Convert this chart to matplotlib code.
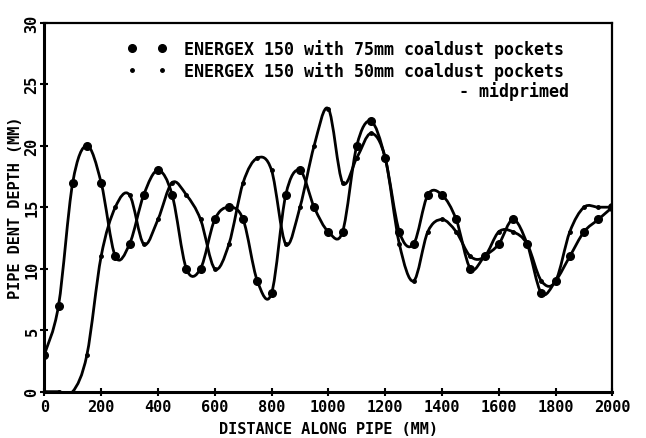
import numpy as np
import matplotlib
matplotlib.use("Agg")
import matplotlib.pyplot as plt
from matplotlib.path import Path
from matplotlib.patches import PathPatch
from matplotlib.lines import Line2D

# ==========================================
# DATA (every 50 mm)
# ==========================================

distance = list(range(0, 2001, 50))

depth_75mm = [3, 7, 17, 20, 17, 11, 12, 16, 18, 16,
              10, 10, 14, 15, 14, 9, 8, 16, 18, 15,
              13, 13, 20, 22, 19, 13, 12, 16, 16, 14,
              10, 11, 12, 14, 12, 8, 9, 11, 13, 14, 15]

depth_50mm = [0, 0, 0, 3, 11, 15, 16, 12, 14, 17,
              16, 14, 10, 12, 17, 19, 18, 12, 15, 20,
              23, 17, 19, 21, 19, 12, 9, 13, 14, 13,
              11, 11, 13, 13, 12, 9, 9, 13, 15, 15, 15]

label_75 = "ENERGEX 150 with 75mm coaldust pockets"
label_50 = "ENERGEX 150 with 50mm coaldust pockets"
label_mid = "- midprimed"

x_ticks = list(range(0, 2001, 200))
y_ticks = list(range(0, 31, 5))

FONT = "DejaVu Sans Mono"


def smooth_path(xs, ys):
    # Catmull-Rom segments drawn as cubic Bezier curves
    pts = np.column_stack([xs, ys]).astype(float)
    n = len(pts)
    verts = [pts[0]]
    codes = [Path.MOVETO]
    for i in range(n - 1):
        p0 = pts[max(i - 1, 0)]
        p1 = pts[i]
        p2 = pts[i + 1]
        p3 = pts[min(i + 2, n - 1)]
        c1 = p1 + (p2 - p0) / 6.0
        c2 = p2 - (p3 - p1) / 6.0
        verts += [c1, c2, p2]
        codes += [Path.CURVE4] * 3
    return Path(verts, codes)


fig = plt.figure(figsize=(6.46, 4.39), dpi=100)
ax = fig.add_axes([0.0686, 0.1055, 0.8794, 0.8405])

for ys in (depth_75mm, depth_50mm):
    ax.add_patch(PathPatch(smooth_path(distance, ys), fill=False,
                           edgecolor="black", lw=2.0, capstyle="round",
                           joinstyle="round"))

ax.plot(distance, depth_75mm, linestyle="none", marker="o",
        markersize=5.5, color="black")
ax.plot(distance, depth_50mm, linestyle="none", marker="o",
        markersize=2.5, color="black")

ax.set_xlim(0, 2000)
ax.set_ylim(0, 30)
ax.set_xticks(x_ticks)
ax.set_yticks(y_ticks)
ax.set_xticklabels([str(v) for v in x_ticks], fontfamily=FONT,
                   fontweight="bold", fontsize=11)
ax.set_yticklabels([str(v) for v in y_ticks], fontfamily=FONT,
                   fontweight="bold", fontsize=11, rotation=90, va="center")
ax.tick_params(direction="inout", length=6, width=1.5)
ax.tick_params(axis="x", pad=2)
ax.tick_params(axis="y", pad=0.5)

for side in ("left", "bottom"):
    ax.spines[side].set_linewidth(2.2)
for side in ("right", "top"):
    ax.spines[side].set_linewidth(1.6)

ax.set_xlabel("DISTANCE ALONG PIPE (MM)", fontfamily=FONT,
              fontweight="bold", fontsize=11, labelpad=5)
ax.set_ylabel("PIPE DENT DEPTH (MM)", fontfamily=FONT,
              fontweight="bold", fontsize=11, labelpad=1)

handles = [
    Line2D([], [], linestyle="none", marker="o", markersize=5.5, color="black"),
    Line2D([], [], linestyle="none", marker="o", markersize=2.5, color="black"),
]
ax.legend(handles, [label_75, label_50], loc="upper left",
          bbox_to_anchor=(0.12, 0.996), frameon=False, numpoints=2,
          handlelength=2.4, handletextpad=1.0, labelspacing=0.15,
          prop={"family": FONT, "weight": "bold", "size": 12})
ax.text(0.923, 0.815, label_mid, transform=ax.transAxes, ha="right",
        va="center", fontfamily=FONT, fontweight="bold", fontsize=12)

plt.savefig("out.png", dpi=100)
